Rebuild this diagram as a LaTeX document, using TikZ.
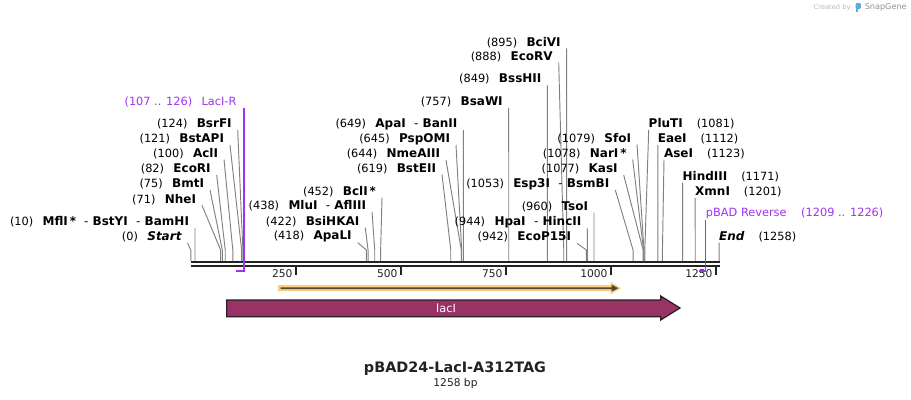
\documentclass[tikz,border=0pt]{standalone}
\usepackage{fontspec}
\setmainfont{DejaVu Sans}
\usetikzlibrary{calc}
\definecolor{bb}{RGB}{34,34,34}
\definecolor{ldr}{RGB}{128,128,128}
\definecolor{prm}{RGB}{160,50,240}
\definecolor{orfo}{RGB}{250,208,128}
\definecolor{orfd}{RGB}{85,72,50}
\definecolor{feat}{RGB}{153,51,102}
\definecolor{featline}{RGB}{40,30,35}
\definecolor{snapblue}{RGB}{90,170,230}
\newcommand\numfont{\fontsize{8.5}{10}\selectfont\mdseries}
\newcommand\namefont{\fontsize{9}{10}\selectfont\bfseries}
\newcommand\lftlab[5]{%
  \node[lab,anchor=east] (L#1) at (#2,#3) {{\numfont(#4)}\hspace{7pt}{\namefont #5}};
  \coordinate (B#1) at ({190.8+0.42*#4},250);
  \coordinate (S#1) at ({190.8+0.42*#4},261);
  \draw[leader] ($(L#1.east)+(6,6)$) -- (B#1) -- (S#1);
}
\newcommand\rgtlab[5]{%
  \node[lab,anchor=west] (L#1) at (#2,#3) {{\namefont #5}\hspace{10.5pt}{\numfont(#4)}};
  \coordinate (B#1) at ({190.8+0.42*#4},250);
  \coordinate (S#1) at ({190.8+0.42*#4},261);
  \draw[leader] ($(L#1.west)+(0,6)$) -- (B#1) -- (S#1);
}
\tikzset{
  lab/.style={inner sep=0pt,outer sep=0pt,text=black},
  leader/.style={draw=ldr,line width=0.7pt},
  backbone/.style={draw=bb,line width=1.7pt},
  tickmark/.style={draw=bb,line width=1.1pt},
  ticklab/.style={inner sep=0pt,font=\fontsize{8}{9}\selectfont,text=bb},
  primer/.style={draw=prm,line width=0.8pt},
  primerbar/.style={draw=prm,line width=1.6pt},
  plab/.style={inner sep=0pt,font=\fontsize{8.5}{10}\selectfont,text=prm},
}
\begin{document}
\begin{tikzpicture}[x=0.75pt,y=-0.75pt]
\fill[white] (0,0) rectangle (911,400);
\useasboundingbox (0,0) rectangle (911,400);

% credit
\node[inner sep=0pt,anchor=west,font=\fontsize{5}{6}\selectfont,text=gray!55] (cr) at (813.5,7.5) {Created by};
\fill[snapblue,rounded corners=0.8pt] (855.5,3) rectangle (860.8,8.8);
\fill[snapblue] (855.5,7) rectangle (857.6,12);
\node[inner sep=0pt,anchor=west,font=\fontsize{6.1}{7}\selectfont,text=gray!85] (sg) at (864.5,7.5) {SnapGene};

% backbone
\coordinate (bbL1) at (191,262.2);
\coordinate (bbR1) at (719.5,262.2);
\coordinate (bbL2) at (191,266.3);
\coordinate (bbR2) at (719.5,266.3);
\draw[backbone] (bbL1) -- (bbR1);
\draw[backbone] (bbL2) -- (bbR2);

% ticks
\foreach \t in {250,500,750,1000,1250}{
  \coordinate (T\t) at ({190.8+0.42*\t},267.3);
  \coordinate (TE\t) at ({190.8+0.42*\t},274.8);
  \draw[tickmark] (T\t) -- (TE\t);
  \node[ticklab,anchor=east] (TL\t) at ($(T\t)+(-3,6.8)$) {\t};
}

% left-side labels
\lftlab{Start}{181.5}{237}{0}{\itshape Start}
\lftlab{MflI}{189}{222}{10}{MflI\,* {\mdseries\ -} BstYI\ \ {\mdseries -} BamHI}
\lftlab{NheI}{196}{199.3}{71}{NheI}
\lftlab{BmtI}{204}{184}{75}{BmtI}
\lftlab{EcoRI}{210.7}{169}{82}{EcoRI}
\lftlab{AclI}{218}{153.5}{100}{AclI}
\lftlab{BstAPI}{224}{139}{121}{BstAPI}
\lftlab{BsrFI}{231.7}{124}{124}{BsrFI}
\lftlab{ApaLI}{351.7}{236.7}{418}{ApaLI}
\lftlab{BsiHKAI}{359.3}{221.7}{422}{BsiHKAI}
\lftlab{MluI}{366}{206}{438}{MluI\ \ {\mdseries -} AflIII}
\lftlab{BclI}{376}{191.5}{452}{BclI\,*}
\lftlab{BstEII}{436}{168.5}{619}{BstEII}
\lftlab{NmeAIII}{440}{154}{644}{NmeAIII}
\lftlab{PspOMI}{450}{139}{645}{PspOMI}
\lftlab{ApaI}{457.4}{124}{649}{ApaI\ \ {\mdseries -} BanII}
\lftlab{BsaWI}{502.7}{102}{757}{BsaWI}
\lftlab{BssHII}{541.4}{79.3}{849}{BssHII}
\lftlab{EcoRV}{552.7}{56.7}{888}{EcoRV}
\lftlab{BciVI}{560.7}{42.3}{895}{BciVI}
\lftlab{EcoPfI}{571}{237.3}{942}{EcoP15I}
\lftlab{HpaI}{581.3}{222.3}{944}{HpaI\ \ {\mdseries -} HincII}
\lftlab{TsoI}{588}{206.7}{960}{TsoI}
\lftlab{Esp3I}{609.3}{184}{1053}{Esp3I\ \ {\mdseries -} BsmBI}
\lftlab{KasI}{617.7}{169}{1077}{KasI}
\lftlab{NarI}{626.7}{153.5}{1078}{NarI\,*}
\lftlab{SfoI}{631}{138.5}{1079}{SfoI}

% right-side labels
\rgtlab{PluTI}{648.7}{124}{1081}{PluTI}
\rgtlab{EaeI}{657.8}{139}{1112}{EaeI}
\rgtlab{AseI}{664}{153.5}{1123}{AseI}
\rgtlab{HindIII}{682.6}{176.7}{1171}{HindIII}
\rgtlab{XmnI}{695.2}{192}{1201}{XmnI}
\rgtlab{End}{719.2}{236.5}{1258}{\itshape End}

% primer LacI-R
\node[plab,anchor=east] (LacR) at (236.7,102) {(107 .. 126)\hspace{7pt}LacI-R};
\coordinate (LacRtop) at (244,108);
\coordinate (LacRbot) at (244,271.5);
\coordinate (LacRbarL) at (236,270.6);
\coordinate (LacRbarR) at (244,270.6);
\draw[primer] (LacRtop) -- (LacRbot);
\draw[primerbar] (LacRbarL) -- (LacRbarR);

% primer pBAD Reverse
\node[plab,anchor=west] (pBR) at (705.7,213.3) {pBAD Reverse\hspace{11pt}(1209 .. 1226)};
\coordinate (pBRtop) at (705.7,220);
\coordinate (pBRbot) at (705.7,271.5);
\coordinate (pBRbarL) at (698.8,270.6);
\coordinate (pBRbarR) at (705.7,270.6);
\draw[primer] (pBRtop) -- (pBRbot);
\draw[primerbar] (pBRbarL) -- (pBRbarR);

% ORF arrow
\fill[orfo] (278,285.2) -- (610.5,285.2) -- (610.5,282) -- (621,288.2) -- (610.5,294.4) -- (610.5,291.2) -- (278,291.2) -- cycle;
\fill[orfd] (280.5,287.3) -- (611.5,287.3) -- (611.5,284.6) -- (618.3,288.2) -- (611.5,291.8) -- (611.5,289.1) -- (280.5,289.1) -- cycle;

% lacI feature
\draw[fill=feat,draw=featline,line width=0.9pt] (226.7,300) -- (660.7,300) -- (660.7,296) -- (680,308) -- (660.7,320) -- (660.7,316.7) -- (226.7,316.7) -- cycle;
\node[inner sep=0pt,font=\fontsize{8.5}{10}\selectfont,text=white] (lacI) at (446,308) {lacI};

% title
\node[inner sep=0pt,font=\fontsize{10.8}{12}\selectfont\bfseries,text=bb] (title) at (455,369) {pBAD24-LacI-A312TAG};
\node[inner sep=0pt,font=\fontsize{8}{9}\selectfont,text=bb] (len) at (455.5,384) {1258 bp};
\end{tikzpicture}
\end{document}
